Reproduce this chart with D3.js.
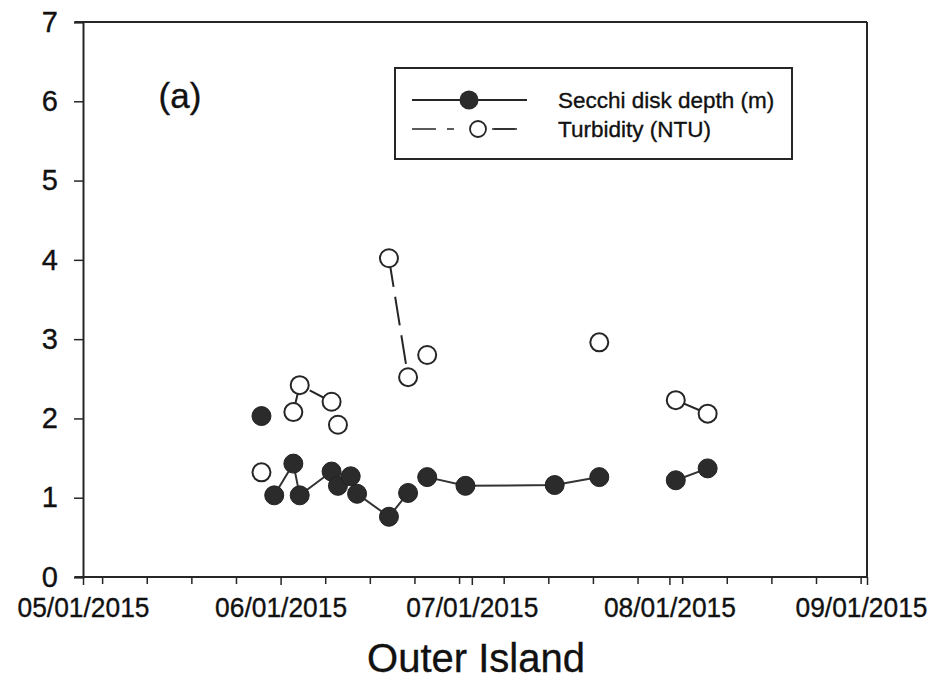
<!DOCTYPE html>
<html>
<head>
<meta charset="utf-8">
<script src="https://cdn.jsdelivr.net/npm/d3@7"></script>
<style>
  html, body { margin: 0; padding: 0; background: #fff; }
  svg { display: block; font-family: "Liberation Sans", Arial, sans-serif; }
  text { fill: #111; stroke: #111; stroke-width: 0.35px; }
</style>
</head>
<body>
<svg id="chart" width="936" height="686"></svg>
<script>
// ---- data ----
const secchiDates   = ["2015-05-29","2015-05-31","2015-06-03","2015-06-04","2015-06-09","2015-06-10","2015-06-12","2015-06-13","2015-06-18","2015-06-21","2015-06-24","2015-06-30","2015-07-14","2015-07-21","2015-08-02","2015-08-07"];
const secchiValues  = [2.03, 1.03, 1.43, 1.03, 1.33, 1.15, 1.27, 1.05, 0.76, 1.06, 1.26, 1.15, 1.16, 1.26, 1.22, 1.37];
const secchiSegment = [0, 1, 1, 1, 1, 1, 1, 1, 1, 1, 2, 2, 2, 2, 3, 3];

const turbDates   = ["2015-05-29","2015-06-03","2015-06-04","2015-06-09","2015-06-10","2015-06-18","2015-06-21","2015-06-24","2015-07-21","2015-08-02","2015-08-07"];
const turbValues  = [1.32, 2.08, 2.42, 2.21, 1.92, 4.02, 2.52, 2.80, 2.96, 2.23, 2.06];
const turbSegment = [0, 1, 1, 1, 1, 2, 2, 3, 4, 5, 5];

const yTicks = [0, 1, 2, 3, 4, 5, 6, 7];
const xLabelDates = ["2015-05-01","2015-06-01","2015-07-01","2015-08-01","2015-09-01"];
const seriesNames = ["Secchi disk depth (m)", "Turbidity (NTU)"];
const panelLabel = "(a)";
const xTitle = "Outer Island";

// ---- setup ----
const parse = d3.utcParse("%Y-%m-%d");
const fmt = d3.utcFormat("%m/%d/%Y");
const svg = d3.select("#chart");
const L = 83, R = 867, T = 22, B = 577;
const ink = "#262626";

const x = d3.scaleUtc().domain([parse("2015-05-01"), parse("2015-09-01")]).range([L, R]);
const y = d3.scaleLinear().domain([0, 7]).range([B, T]);

const secchi = secchiDates.map((d, i) => ({date: parse(d), v: secchiValues[i], seg: secchiSegment[i]}));
const turb = turbDates.map((d, i) => ({date: parse(d), v: turbValues[i], seg: turbSegment[i]}));

// frame top and right
svg.append("line").attr("x1", L - 8).attr("x2", R).attr("y1", T).attr("y2", T)
  .attr("stroke", ink).attr("stroke-width", 2);
svg.append("line").attr("x1", R).attr("x2", R).attr("y1", T).attr("y2", B)
  .attr("stroke", ink).attr("stroke-width", 2);

// y axis
const yAxis = svg.append("g").attr("transform", `translate(${L},0)`)
  .call(d3.axisLeft(y).tickValues(yTicks).tickFormat(d3.format("d")).tickSize(9).tickPadding(16));
yAxis.select(".domain").attr("stroke", ink).attr("stroke-width", 2);
yAxis.selectAll(".tick line").attr("stroke", ink).attr("stroke-width", 1.5);
yAxis.selectAll(".tick text").attr("font-size", 29)
  .attr("font-family", "Liberation Sans, Arial, sans-serif");

// x axis: Monday weekly ticks + month ticks
const monthTicks = xLabelDates.map(parse);
const weekTicks = d3.utcMonday.range(parse("2015-05-01"), parse("2015-09-02"))
  .filter(d => !monthTicks.some(m => +m === +d));
const xAxis = svg.append("g").attr("transform", `translate(0,${B})`)
  .call(d3.axisBottom(x).tickValues(weekTicks).tickSize(7).tickFormat(""));
xAxis.select(".domain").attr("stroke", ink).attr("stroke-width", 2)
  .attr("d", `M${L - 8},0H${R}`);
xAxis.selectAll(".tick line").attr("stroke", ink).attr("stroke-width", 1.5);
const xAxis2 = svg.append("g").attr("transform", `translate(0,${B})`)
  .call(d3.axisBottom(x).tickValues(monthTicks).tickSize(8).tickFormat(fmt));
xAxis2.select(".domain").remove();
xAxis2.selectAll(".tick line").attr("stroke", ink).attr("stroke-width", 1.5);
xAxis2.selectAll(".tick text").attr("font-size", 27).attr("dy", "0.93em")
  .attr("y", 15).attr("textLength", 132).attr("lengthAdjust", "spacingAndGlyphs")
  .attr("x", (d, i, n) => i === n.length - 1 ? -6 : 0)
  .attr("font-family", "Liberation Sans, Arial, sans-serif");

// lines
const line = d3.line().x(d => x(d.date)).y(d => y(d.v));
const secchiGroups = d3.groups(secchi, d => d.seg);
const turbGroups = d3.groups(turb, d => d.seg);

svg.append("g").selectAll("path").data(turbGroups).join("path")
  .attr("d", g => line(g[1])).attr("fill", "none").attr("stroke", ink)
  .attr("stroke-width", 2).attr("stroke-dasharray", "29,10");
svg.append("g").selectAll("path").data(secchiGroups).join("path")
  .attr("d", g => line(g[1])).attr("fill", "none").attr("stroke", "#333")
  .attr("stroke-width", 2);

// markers
svg.append("g").selectAll("circle").data(turb).join("circle")
  .attr("cx", d => x(d.date)).attr("cy", d => y(d.v)).attr("r", 9)
  .attr("fill", "#fff").attr("stroke", ink).attr("stroke-width", 2);
svg.append("g").selectAll("circle").data(secchi).join("circle")
  .attr("cx", d => x(d.date)).attr("cy", d => y(d.v)).attr("r", 9.5)
  .attr("fill", "#2b2b2b").attr("stroke", "#222").attr("stroke-width", 1);

// panel label
svg.append("text").attr("x", 180).attr("y", 108).attr("text-anchor", "middle")
  .attr("font-size", 35).text(panelLabel);

// legend
const lg = svg.append("g");
lg.append("rect").attr("x", 395).attr("y", 68).attr("width", 397).attr("height", 91)
  .attr("fill", "#fff").attr("stroke", ink).attr("stroke-width", 2);
lg.append("line").attr("x1", 412).attr("x2", 527).attr("y1", 100).attr("y2", 100)
  .attr("stroke", ink).attr("stroke-width", 2);
lg.append("circle").attr("cx", 469).attr("cy", 100).attr("r", 9.5).attr("fill", "#2b2b2b");
lg.append("line").attr("x1", 412).attr("x2", 517).attr("y1", 129).attr("y2", 129)
  .attr("stroke", ink).attr("stroke-width", 1.5).attr("stroke-dasharray", "24,11,7,40,0,0");
lg.append("line").attr("x1", 470).attr("x2", 515).attr("y1", 129).attr("y2", 129)
  .attr("stroke", ink).attr("stroke-width", 1.5).attr("stroke-dasharray", "0,20,0,2,23");
lg.append("circle").attr("cx", 478).attr("cy", 129).attr("r", 8)
  .attr("fill", "#fff").attr("stroke", ink).attr("stroke-width", 1.8);
lg.selectAll("text.lbl").data(seriesNames).join("text").attr("class", "lbl")
  .attr("x", 558).attr("y", (d, i) => 108 + i * 29)
  .attr("font-size", 22.5).text(d => d);

// x title
svg.append("text").attr("x", 476).attr("y", 672).attr("text-anchor", "middle")
  .attr("font-size", 40).text(xTitle);
</script>
</body>
</html>
